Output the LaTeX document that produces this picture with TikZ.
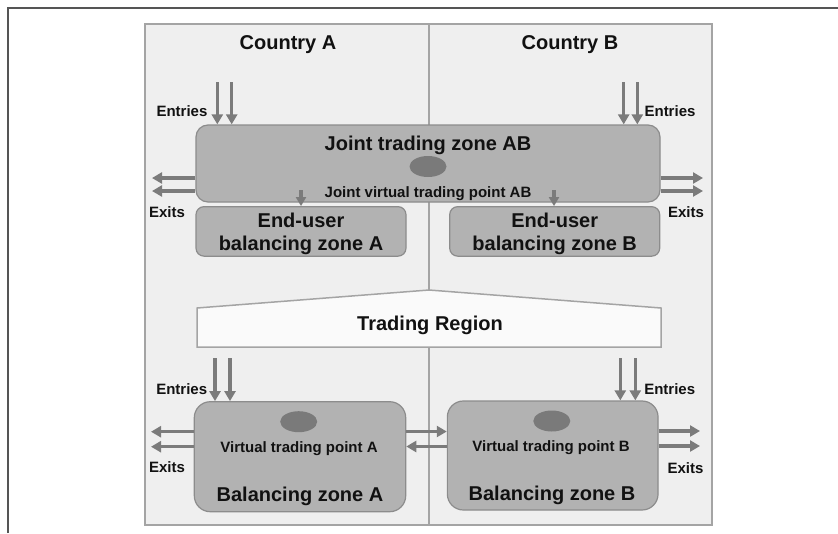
\documentclass[tikz,border=0pt]{standalone}
\usepackage{fontspec}
\setmainfont{Liberation Sans}
\usetikzlibrary{arrows.meta,shapes.geometric}

\definecolor{framec}{HTML}{555555}
\definecolor{panelfill}{HTML}{EFEFEF}
\definecolor{panelline}{HTML}{A4A4A4}
\definecolor{boxfill}{HTML}{B2B2B2}
\definecolor{boxline}{HTML}{8C8C8C}
\definecolor{pointfill}{HTML}{7A7A7A}
\definecolor{flowc}{HTML}{7B7B7B}
\definecolor{regionfill}{HTML}{FAFAFA}
\definecolor{textc}{HTML}{111111}

\tikzset{
  zonebox/.style={draw=boxline, line width=1.2pt, fill=boxfill, inner sep=0pt},
  vpoint/.style={ellipse, fill=pointfill, draw=none, minimum width=37pt, minimum height=21pt, inner sep=0pt},
  bigtxt/.style={anchor=base, inner sep=0pt, text=textc, font=\bfseries\fontsize{20}{24}\selectfont},
  midtxt/.style={anchor=base, inner sep=0pt, text=textc, font=\bfseries\fontsize{15}{18}\selectfont},
  smalltxt/.style={anchor=base, inner sep=0pt, text=textc, font=\bfseries\fontsize{15}{18}\selectfont},
  flow/.style={draw=flowc, line width=3.3pt, -{Triangle[width=11pt,length=10pt]}},
}

\begin{document}
\begin{tikzpicture}[x=1pt, y=-1pt]
\useasboundingbox (0,0) rectangle (838,533);

% page frame (top and left edges)
\draw[framec, line width=1.5pt] (8,533) -- (8,8) -- (838,8);

% countries panel and border between them
\draw[panelline, fill=panelfill, line width=1.5pt] (145,24) rectangle (712,525);
\draw[panelline, line width=1.5pt] (429,24) -- (429,525);

\node[bigtxt] (cA) at (288,49) {Country A};
\node[bigtxt] (cB) at (570,49) {Country B};

% trading region banner
\draw[panelline, fill=regionfill, line width=1.5pt]
  (197,347) -- (197,308) -- (429,290) -- (661,308) -- (661,347) -- cycle;
\node[bigtxt] (tr) at (430,330) {Trading Region};

% joint trading zone
\node[zonebox, rounded corners=12pt, minimum width=464pt, minimum height=77pt] (jz) at (428,163.5) {};
\node[bigtxt] (jzt) at (428,150.5) {Joint trading zone AB};
\node[vpoint] (jp) at (428,166.5) {};
\node[midtxt] (jpt) at (428,197) {Joint virtual trading point AB};

% end-user balancing zones
\node[zonebox, rounded corners=8pt, minimum width=210pt, minimum height=49.5pt] (euA) at (301,231.4) {};
\node[bigtxt] (euA1) at (301,227) {End-user};
\node[bigtxt] (euA2) at (301,250) {balancing zone A};
\node[zonebox, rounded corners=8pt, minimum width=210pt, minimum height=49.5pt] (euB) at (554.7,231.4) {};
\node[bigtxt] (euB1) at (554.7,227) {End-user};
\node[bigtxt] (euB2) at (554.7,250) {balancing zone B};

% national balancing zones
\node[zonebox, rounded corners=16pt, minimum width=211.4pt, minimum height=110pt] (bA) at (300,456.7) {};
\node[vpoint] (pA) at (298.7,421.7) {};
\node[midtxt] (pAt) at (299,452.5) {Virtual trading point A};
\node[bigtxt] (bAt) at (300,501.7) {Balancing zone A};
\node[zonebox, rounded corners=16pt, minimum width=210.7pt, minimum height=109pt] (bB) at (552.7,455.5) {};
\node[vpoint] (pB) at (551.8,421) {};
\node[midtxt] (pBt) at (551,451.7) {Virtual trading point B};
\node[bigtxt] (bBt) at (552,500) {Balancing zone B};

% entries / exits labels
\node[smalltxt] (enJA) at (182,116) {Entries};
\node[smalltxt] (enJB) at (670,116) {Entries};
\node[smalltxt] (exJA) at (167,217) {Exits};
\node[smalltxt] (exJB) at (686,217) {Exits};
\node[smalltxt] (enA) at (181.7,394) {Entries};
\node[smalltxt] (enB) at (669.7,394) {Entries};
\node[smalltxt] (exA) at (167,472.7) {Exits};
\node[smalltxt] (exB) at (685.5,473) {Exits};

% free ends of the flows
\coordinate (iJA1) at (217.3,82);
\coordinate (iJA2) at (231.7,82);
\coordinate (iJB1) at (623.7,82);
\coordinate (iJB2) at (637.3,82);
\coordinate (oJA1) at (152,178);
\coordinate (oJA2) at (152,191);
\coordinate (oJB1) at (703,178);
\coordinate (oJB2) at (703,191);
\coordinate (dA) at (301,190);
\coordinate (dB) at (554,190);
\coordinate (iA1) at (215,358);
\coordinate (iA2) at (230,358);
\coordinate (iB1) at (620.3,358);
\coordinate (iB2) at (635.3,358);
\coordinate (oA1) at (151,431.7);
\coordinate (oA2) at (151,446.7);
\coordinate (oB1) at (700,431);
\coordinate (oB2) at (700,446);
\coordinate (xAB) at (0,431.5);
\coordinate (xBA) at (0,446.5);

% flows of the joint zone
\draw[flow] (iJA1) -- (iJA1 |- jz.north);
\draw[flow] (iJA2) -- (iJA2 |- jz.north);
\draw[flow] (iJB1) -- (iJB1 |- jz.north);
\draw[flow] (iJB2) -- (iJB2 |- jz.north);
\draw[flow] (oJA1 -| jz.west) -- (oJA1);
\draw[flow] (oJA2 -| jz.west) -- (oJA2);
\draw[flow] (oJB1 -| jz.east) -- (oJB1);
\draw[flow] (oJB2 -| jz.east) -- (oJB2);
\draw[flow, -{Triangle[width=10pt,length=9pt]}] (dA) -- (dA |- euA.north);
\draw[flow, -{Triangle[width=10pt,length=9pt]}] (dB) -- (dB |- euB.north);

% flows of the separate zones
\draw[flow] (iA1) -- (iA1 |- bA.north);
\draw[flow] (iA2) -- (iA2 |- bA.north);
\draw[flow] (iB1) -- (iB1 |- bB.north);
\draw[flow] (iB2) -- (iB2 |- bB.north);
\draw[flow] (oA1 -| bA.west) -- (oA1);
\draw[flow] (oA2 -| bA.west) -- (oA2);
\draw[flow] (oB1 -| bB.east) -- (oB1);
\draw[flow] (oB2 -| bB.east) -- (oB2);
\draw[flow] (xAB -| bA.east) -- (xAB -| bB.west);
\draw[flow] (xBA -| bB.west) -- (xBA -| bA.east);
\end{tikzpicture}
\end{document}
